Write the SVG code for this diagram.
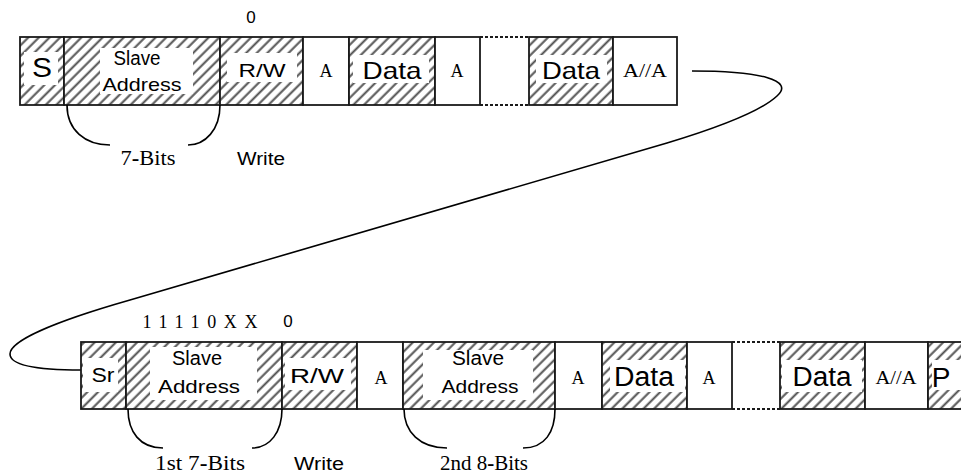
<svg xmlns="http://www.w3.org/2000/svg" width="961" height="475" viewBox="0 0 961 475">
<defs>
<pattern id="hatch" patternUnits="userSpaceOnUse" width="7.5" height="7.5" patternTransform="rotate(45)">
<rect width="7.5" height="7.5" fill="#fff"/>
<line x1="1.5" y1="0" x2="1.5" y2="7.5" stroke="#505050" stroke-width="2"/>
</pattern>
</defs>
<style>
.h{fill:url(#hatch);stroke:#1a1a1a;stroke-width:1.8}
.w{fill:#fff;stroke:#1a1a1a;stroke-width:1.8}
.lb{fill:#fff}
.dot{stroke:#1a1a1a;stroke-width:1.8;stroke-dasharray:3 2;fill:none}
.ar{font-family:"Liberation Sans",Arial,sans-serif;fill:#000;text-anchor:middle}
.tm{font-family:"Liberation Serif","Times New Roman",serif;fill:#000;text-anchor:middle}
.br{fill:none;stroke:#000;stroke-width:1.6}
.cn{fill:none;stroke:#000;stroke-width:1.6}
</style>

<g id="connectors">
<path class="cn" d="M692,71 C760,71 795,80 777,96 C762,110 720,127 667,143 L130,300 C60,320 10,340 10,354 C10,366 40,370 81,370"/>
</g>

<g id="top-row">
<g id="t-s"><rect class="h" x="20" y="37" width="44" height="68"/><rect class="lb" x="24" y="52" width="34" height="33"/><text class="ar" x="42" y="77" font-size="28" textLength="20" lengthAdjust="spacingAndGlyphs">S</text></g>
<g id="t-addr"><rect class="h" x="64" y="37" width="156" height="68"/><rect class="lb" x="100" y="48" width="93" height="46"/><text class="ar" x="137" y="65" font-size="19.5" textLength="47" lengthAdjust="spacingAndGlyphs">Slave</text><text class="ar" x="142" y="91" font-size="19" textLength="79" lengthAdjust="spacingAndGlyphs">Address</text></g>
<g id="t-rw"><rect class="h" x="220" y="37" width="83" height="68"/><rect class="lb" x="227" y="53" width="70" height="29"/><text class="ar" x="262" y="77" font-size="19" textLength="47" lengthAdjust="spacingAndGlyphs">R/W</text></g>
<g id="t-a1"><rect class="w" x="303" y="37" width="46" height="68"/><text class="tm" x="326" y="77" font-size="18">A</text></g>
<g id="t-data1"><rect class="h" x="349" y="37" width="86" height="68"/><rect class="lb" x="353" y="55" width="76" height="28"/><text class="ar" x="392" y="79" font-size="24" textLength="59" lengthAdjust="spacingAndGlyphs">Data</text></g>
<g id="t-a2"><rect class="w" x="435" y="37" width="45" height="68"/><text class="tm" x="457" y="77" font-size="18">A</text></g>
<g id="t-gap"><line class="dot" x1="480" y1="37" x2="529" y2="37"/><line class="dot" x1="480" y1="105" x2="529" y2="105"/></g>
<g id="t-data2"><rect class="h" x="529" y="37" width="84" height="68"/><rect class="lb" x="536" y="55" width="71" height="28"/><text class="ar" x="571" y="79" font-size="24" textLength="58" lengthAdjust="spacingAndGlyphs">Data</text></g>
<g id="t-aa"><rect class="w" x="613" y="37" width="64" height="68"/><text class="tm" x="645" y="77" font-size="18" textLength="44" lengthAdjust="spacingAndGlyphs">A//A</text></g>
<text class="ar" x="251" y="23" font-size="17">0</text>
<path class="br" d="M67,105 C67,130 85,145 110,145"/>
<path class="br" d="M188,145 C205,145 220,130 220,105"/>
<text class="tm" x="148" y="165" font-size="20" textLength="55" lengthAdjust="spacingAndGlyphs">7<tspan font-weight="bold">-</tspan>Bits</text>
<text class="ar" x="261" y="165" font-size="18" textLength="48" lengthAdjust="spacingAndGlyphs">Write</text>
</g>

<g id="bottom-row">
<g id="b-sr"><rect class="h" x="81" y="342" width="45" height="67"/><rect class="lb" x="83" y="358" width="35" height="34"/><text class="ar" x="103" y="382" font-size="20" textLength="23" lengthAdjust="spacingAndGlyphs">Sr</text></g>
<g id="b-addr1"><rect class="h" x="126" y="342" width="156" height="67"/><rect class="lb" x="150" y="347" width="107" height="53"/><text class="ar" x="197" y="365" font-size="19.5" textLength="50" lengthAdjust="spacingAndGlyphs">Slave</text><text class="ar" x="199" y="393" font-size="19" textLength="82" lengthAdjust="spacingAndGlyphs">Address</text></g>
<g id="b-rw"><rect class="h" x="282" y="342" width="75" height="67"/><rect class="lb" x="285" y="358" width="66" height="32"/><text class="ar" x="317" y="383" font-size="20" textLength="54" lengthAdjust="spacingAndGlyphs">R/W</text></g>
<g id="b-a1"><rect class="w" x="357" y="342" width="46" height="67"/><text class="tm" x="381" y="384" font-size="18">A</text></g>
<g id="b-addr2"><rect class="h" x="403" y="342" width="152" height="67"/><rect class="lb" x="423" y="350" width="110" height="50"/><text class="ar" x="478" y="365" font-size="19.5" textLength="52" lengthAdjust="spacingAndGlyphs">Slave</text><text class="ar" x="480" y="393" font-size="19" textLength="77" lengthAdjust="spacingAndGlyphs">Address</text></g>
<g id="b-a2"><rect class="w" x="555" y="342" width="47" height="67"/><text class="tm" x="578" y="384" font-size="18">A</text></g>
<g id="b-data1"><rect class="h" x="602" y="342" width="85" height="67"/><rect class="lb" x="610" y="360" width="75" height="32"/><text class="ar" x="644" y="386" font-size="27" textLength="60" lengthAdjust="spacingAndGlyphs">Data</text></g>
<g id="b-a3"><rect class="w" x="687" y="342" width="45" height="67"/><text class="tm" x="709" y="384" font-size="18">A</text></g>
<g id="b-gap"><line class="dot" x1="732" y1="342" x2="780" y2="342"/><line class="dot" x1="732" y1="409" x2="780" y2="409"/></g>
<g id="b-data2"><rect class="h" x="780" y="342" width="85" height="67"/><rect class="lb" x="782" y="360" width="80" height="32"/><text class="ar" x="822" y="386" font-size="27" textLength="59" lengthAdjust="spacingAndGlyphs">Data</text></g>
<g id="b-aa"><rect class="w" x="865" y="342" width="63" height="67"/><text class="tm" x="896" y="384" font-size="18" textLength="41" lengthAdjust="spacingAndGlyphs">A//A</text></g>
<g id="b-p"><rect class="h" x="928" y="342" width="40" height="67"/><rect class="lb" x="932" y="360" width="32" height="30"/><text class="ar" x="941" y="387" font-size="28" text-anchor="start">P</text></g>
<text class="tm" x="200" y="328" font-size="18" textLength="115" lengthAdjust="spacing">11110XX</text>
<text class="ar" x="288" y="327" font-size="17">0</text>
<path class="br" d="M128,409 C128,432 140,448 163,448"/>
<path class="br" d="M252,448 C270,448 282,432 282,409"/>
<path class="br" d="M404,409 C404,432 420,448 447,448"/>
<path class="br" d="M523,448 C545,448 555,432 555,409"/>
<text class="tm" x="200" y="470" font-size="21" textLength="90" lengthAdjust="spacingAndGlyphs">1st 7<tspan font-weight="bold">-</tspan>Bits</text>
<text class="ar" x="319" y="470" font-size="18" textLength="50" lengthAdjust="spacingAndGlyphs">Write</text>
<text class="tm" x="484" y="470" font-size="21" textLength="88" lengthAdjust="spacingAndGlyphs">2nd 8<tspan font-weight="bold">-</tspan>Bits</text>
</g>
</svg>
